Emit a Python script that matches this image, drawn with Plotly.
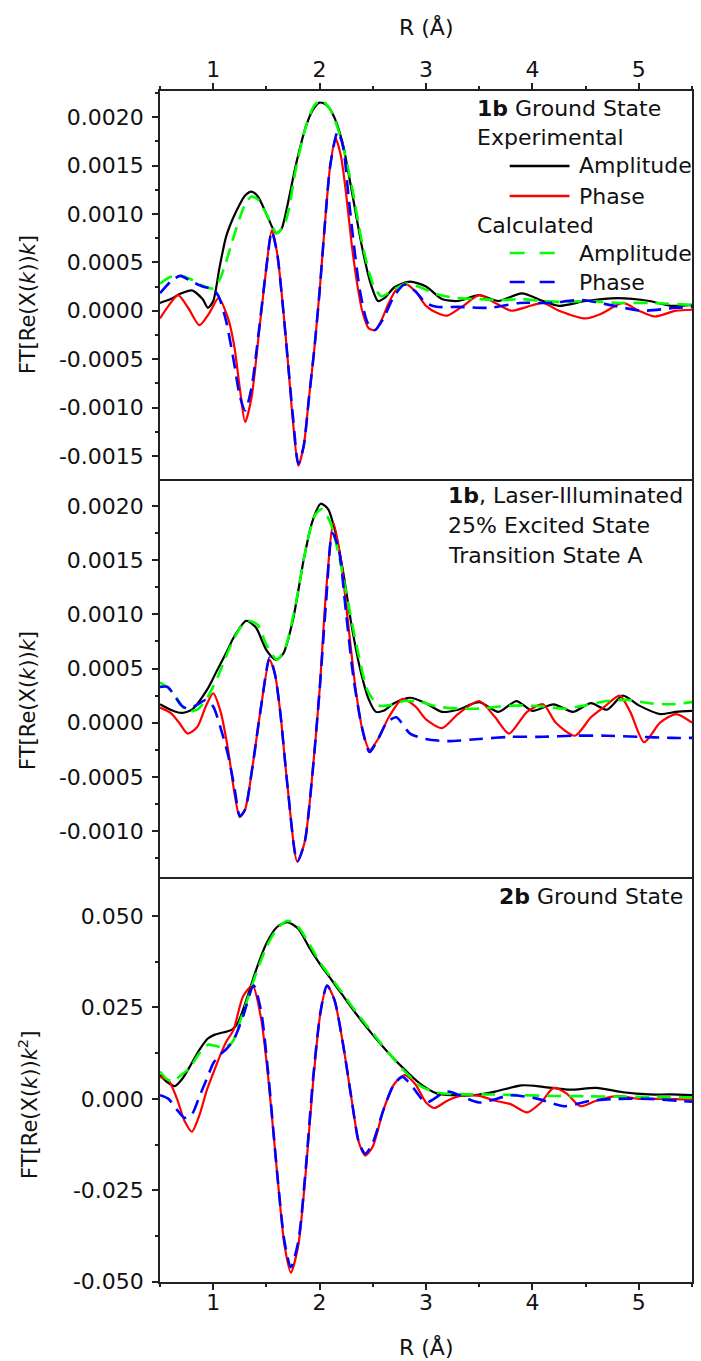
import plotly.graph_objects as go

# ---------------- data ----------------
# Panel 1: 1b Ground State
p1_exp_amp_x = [0.5, 0.6, 0.7, 0.8, 0.9, 0.95, 1.0, 1.06, 1.12, 1.18, 1.25, 1.3, 1.36, 1.42, 1.5, 1.59, 1.64, 1.7, 1.78, 1.87,
                1.94, 2.0, 2.06, 2.12, 2.21, 2.3, 2.4, 2.48, 2.55, 2.62, 2.7, 2.85, 3.0, 3.15, 3.3, 3.5, 3.68, 3.9, 4.1, 4.25,
                4.5, 4.8, 5.1, 5.3, 5.5]
p1_exp_amp_y = [0.00008, 0.00012, 0.00018, 0.00021, 0.00012, 0.00003, 0.0001, 0.00045, 0.00076, 0.00094, 0.00110, 0.00119,
                0.00123, 0.00118, 0.00100, 0.00080, 0.00084, 0.00110, 0.00152, 0.00190, 0.00208, 0.00215, 0.00213, 0.00204,
                0.00176, 0.00125, 0.00065, 0.00028, 0.00010, 0.00014, 0.00024, 0.00030, 0.00025, 0.00012, 0.00010, 0.00016,
                0.00010, 0.00018, 0.00010, 0.00005, 0.00010, 0.00013, 0.00010, 0.00005, 0.00006]

p1_exp_pha_x = [0.5, 0.58, 0.67, 0.77, 0.87, 0.96, 1.05, 1.14, 1.2, 1.25, 1.30, 1.36, 1.43, 1.5, 1.55, 1.6, 1.65, 1.7, 1.75,
                1.8, 1.85, 1.9, 1.95, 2.0, 2.05, 2.1, 2.15, 2.2, 2.25, 2.3, 2.35, 2.4, 2.46, 2.52, 2.58, 2.65, 2.72, 2.8, 2.9,
                3.0, 3.1, 3.2, 3.35, 3.5, 3.65, 3.8, 3.95, 4.1, 4.25, 4.5, 4.65, 4.85, 5.0, 5.15, 5.35, 5.5]
p1_exp_pha_y = [-0.00008, 0.00005, 0.00016, 0.00002, -0.00015, -0.00003, 0.00013, -0.00008, -0.00038, -0.0008,
                -0.00115, -0.0009, -0.00023, 0.00045, 0.00083, 0.0006, 0.00011, -0.0005, -0.00115, -0.0016,
                -0.0014, -0.0009, -0.0004, 0.0002, 0.0009, 0.0015, 0.00178, 0.0016, 0.0012, 0.0007,
                0.0003, 0.0, -0.00018, -0.0002, -0.0001, 0.00008, 0.00022, 0.00028, 0.0002, 0.00005,
                -0.00002, -0.00005, 0.00005, 0.00016, 0.00008, 0.0, 0.00004, 0.00008, 0.0, -0.00008,
                -0.00003, 0.00008, 0.0, -0.00006, 0.0, 0.00001]

p1_cal_amp_x = [0.5, 0.6, 0.7, 0.8, 0.9, 1.0, 1.06, 1.12, 1.18, 1.25, 1.3, 1.36, 1.42, 1.5, 1.6, 1.68, 1.78, 1.87, 1.95, 2.02,
                2.1, 2.2, 2.3, 2.4, 2.5, 2.58, 2.7, 2.82, 2.95, 3.1, 3.3, 3.5, 3.7, 3.9, 4.1, 4.3, 4.5, 4.8, 5.1, 5.5]
p1_cal_amp_y = [0.00028, 0.00035, 0.00036, 0.00032, 0.00026, 0.00023, 0.00032, 0.0005, 0.00072, 0.00096,
                0.0011, 0.00118, 0.00115, 0.001, 0.0008, 0.00092, 0.00148, 0.0019, 0.00212, 0.00217,
                0.00208, 0.00178, 0.0013, 0.0007, 0.00028, 0.00015, 0.00022, 0.00028, 0.00024, 0.00017,
                0.00013, 0.00012, 0.00011, 0.00012, 0.0001, 0.00009, 0.0001, 0.00008, 0.00008, 0.00006]

p1_cal_pha_x = [0.5, 0.6, 0.69, 0.8, 0.9, 1.0, 1.05, 1.12, 1.19, 1.25, 1.3, 1.36, 1.43, 1.5, 1.55, 1.6, 1.65, 1.7, 1.75, 1.8,
                1.85, 1.9, 1.95, 2.0, 2.05, 2.1, 2.17, 2.22, 2.27, 2.32, 2.38, 2.45, 2.52, 2.6, 2.7, 2.8, 2.9, 3.0, 3.1, 3.3,
                3.6, 3.88, 4.16, 4.47, 4.72, 5.03, 5.35, 5.5]
p1_cal_pha_y = [0.00018, 0.0003, 0.00036, 0.0003, 0.00025, 0.00022, 0.00015, -0.0001, -0.0005, -0.00088,
                -0.00103, -0.0008, -0.0002, 0.00045, 0.00082, 0.0006, 0.0001, -0.0005, -0.0011, -0.00158,
                -0.0014, -0.0009, -0.0004, 0.0002, 0.0009, 0.0015, 0.00185, 0.0017, 0.0012, 0.0007,
                0.0002, -0.00012, -0.0002, -0.00008, 0.00015, 0.00027, 0.0002, 0.00008, 0.00004, 0.00004,
                0.00003, 0.00008, 0.00008, 0.00011, 0.00006, 0.0, 0.00003, 0.00004]

# Panel 2: 1b, Laser-Illuminated
p2_exp_amp_x = [0.5, 0.6, 0.7, 0.8, 0.94, 1.03, 1.12, 1.2, 1.31, 1.4, 1.5, 1.59, 1.66, 1.75, 1.85, 1.93, 2.01, 2.08, 2.15,
                2.22, 2.3, 2.38, 2.46, 2.53, 2.6, 2.7, 2.85, 3.0, 3.15, 3.3, 3.5, 3.68, 3.85, 4.0, 4.2, 4.38, 4.55, 4.7,
                4.85, 5.0, 5.2, 5.35, 5.5]
p2_exp_amp_y = [0.00017, 0.00012, 0.00009, 0.00012, 0.0003, 0.00047, 0.00064, 0.0008, 0.00094, 0.00088,
                0.00067, 0.00058, 0.00064, 0.00095, 0.0015, 0.00185, 0.00202, 0.00197, 0.00175, 0.0014,
                0.0009, 0.0005, 0.00022, 0.0001, 0.00011, 0.00018, 0.00023, 0.00018, 0.0001, 0.00012,
                0.00019, 0.0001, 0.0002, 0.00011, 0.00017, 0.0001, 0.00018, 0.00012, 0.00025, 0.00016,
                0.00008, 0.0001, 0.00011]

p2_exp_pha_x = [0.5, 0.6, 0.68, 0.76, 0.85, 0.93, 1.0, 1.07, 1.14, 1.2, 1.25, 1.3, 1.37, 1.45, 1.53, 1.58, 1.63, 1.7, 1.79,
                1.86, 1.93, 2.0, 2.06, 2.13, 2.2, 2.27, 2.34, 2.41, 2.47, 2.55, 2.65, 2.78, 2.9, 3.0, 3.15, 3.3, 3.5, 3.65,
                3.78, 3.95, 4.1, 4.22, 4.4, 4.55, 4.68, 4.82, 4.92, 5.05, 5.2, 5.35, 5.5]
p2_exp_pha_y = [0.00014, 0.00009, 0.0, -0.0001, -0.00004, 0.00015, 0.00027, 0.0001, -0.00025, -0.00065,
                -0.00087, -0.0008, -0.0004, 0.00015, 0.00058, 0.00045, 0.0001, -0.0006, -0.00128, -0.0011,
                -0.0005, 0.0003, 0.0012, 0.00184, 0.0015, 0.0009, 0.0003, -0.0001, -0.00025, -0.00015,
                0.00005, 0.00022, 0.00015, 0.00003, -0.00005, 0.00008, 0.0002, 0.00005, -0.0001, 0.0001,
                0.00017, 0.0, -0.00012, 0.00005, 0.00015, 0.00025, 0.0001, -0.00018, 0.0, 0.00008, 0.0]

p2_cal_amp_x = [0.5, 0.58, 0.66, 0.75, 0.85, 0.95, 1.05, 1.15, 1.25, 1.33, 1.42, 1.5, 1.6, 1.68, 1.78, 1.88, 1.96, 2.02,
                2.1, 2.18, 2.26, 2.35, 2.45, 2.55, 2.65, 2.8, 2.95, 3.1, 3.3, 3.5, 3.7, 3.9, 4.1, 4.3, 4.5, 4.7, 4.9, 5.1,
                5.3, 5.5]
p2_cal_amp_y = [0.00037, 0.00032, 0.00022, 0.00011, 0.00012, 0.00024, 0.00044, 0.00068, 0.00087, 0.00094,
                0.0009, 0.00072, 0.00058, 0.0007, 0.00112, 0.00165, 0.00192, 0.00197, 0.00185, 0.00155,
                0.00115, 0.0007, 0.0003, 0.00016, 0.00016, 0.0002, 0.00019, 0.00015, 0.00013, 0.00013,
                0.00015, 0.00016, 0.00015, 0.00013, 0.00016, 0.0002, 0.00021, 0.00018, 0.00017, 0.00019]

p2_cal_pha_x = [0.5, 0.57, 0.63, 0.7, 0.76, 0.84, 0.93, 1.0, 1.07, 1.14, 1.2, 1.25, 1.3, 1.37, 1.45, 1.53, 1.58, 1.63, 1.7,
                1.79, 1.86, 1.93, 2.0, 2.06, 2.12, 2.18, 2.25, 2.32, 2.4, 2.47, 2.55, 2.63, 2.72, 2.85, 3.0, 3.2, 3.5, 3.8,
                4.1, 4.4, 4.7, 5.0, 5.3, 5.5]
p2_cal_pha_y = [0.00033, 0.00033, 0.00026, 0.00016, 0.00013, 0.00016, 0.00021, 0.00015, -0.00005, -0.0003,
                -0.0006, -0.00086, -0.0008, -0.0004, 0.00015, 0.0006, 0.00045, 0.0001, -0.0006, -0.00128,
                -0.0011, -0.0005, 0.0003, 0.0011, 0.00175, 0.0016, 0.001, 0.0004, -0.00005, -0.00027,
                -0.00015, 0.0, 0.00005, -0.0001, -0.00015, -0.00017, -0.00015, -0.00013, -0.00013, -0.00012,
                -0.00012, -0.00013, -0.00014, -0.00014]

# Panel 3: 2b Ground State
p3_exp_amp_x = [0.5, 0.57, 0.64, 0.71, 0.78, 0.87, 0.95, 1.01, 1.07, 1.13, 1.18, 1.23, 1.3, 1.4, 1.5, 1.6, 1.7, 1.8, 1.9,
                2.0, 2.1, 2.2, 2.35, 2.5, 2.65, 2.8, 2.95, 3.1, 3.25, 3.45, 3.65, 3.9, 4.1, 4.35, 4.6, 4.85, 5.1, 5.3, 5.5]
p3_exp_amp_y = [0.0065, 0.0045, 0.0035, 0.0055, 0.0088, 0.0134, 0.0165, 0.0175, 0.018, 0.0184,
                0.019, 0.0207, 0.026, 0.035, 0.0425, 0.047, 0.0483, 0.0465, 0.0415, 0.037,
                0.033, 0.029, 0.023, 0.0175, 0.0125, 0.008, 0.004, 0.0015, 0.001, 0.001,
                0.002, 0.0037, 0.0033, 0.0025, 0.003, 0.0018, 0.0012, 0.0012, 0.001]

p3_exp_pha_x = [0.5, 0.58, 0.66, 0.73, 0.8, 0.87, 0.94, 1.0, 1.06, 1.12, 1.19, 1.28, 1.37, 1.45, 1.52, 1.6, 1.67, 1.73, 1.8,
                1.87, 1.94, 2.01, 2.07, 2.14, 2.22, 2.3, 2.37, 2.43, 2.5, 2.6, 2.7, 2.8, 2.9, 3.0, 3.08, 3.2, 3.35, 3.5,
                3.65, 3.8, 3.95, 4.08, 4.2, 4.32, 4.45, 4.6, 4.8, 5.0, 5.25, 5.5]
p3_exp_pha_y = [0.006, 0.005, 0.0, -0.006, -0.009, -0.0045, 0.0024, 0.007, 0.0115, 0.0155,
                0.0188, 0.028, 0.031, 0.022, 0.005, -0.02, -0.04, -0.0475, -0.04, -0.02,
                0.005, 0.024, 0.031, 0.027, 0.015, 0.0, -0.012, -0.0155, -0.013, -0.003,
                0.004, 0.0065, 0.004, -0.001, -0.0025, -0.0005, 0.001, 0.0008, -0.0005, -0.0015,
                -0.0037, -0.001, 0.003, 0.0015, -0.002, -0.0005, 0.0008, 0.0, 0.0, -0.0002]

p3_cal_amp_x = [0.5, 0.56, 0.62, 0.7, 0.78, 0.87, 0.95, 1.02, 1.1, 1.18, 1.25, 1.32, 1.4, 1.5, 1.6, 1.7, 1.8, 1.9, 2.0, 2.1,
                2.2, 2.35, 2.5, 2.65, 2.8, 2.95, 3.1, 3.3, 3.6, 3.9, 4.2, 4.5, 4.8, 5.1, 5.5]
p3_cal_amp_y = [0.0075, 0.0055, 0.0048, 0.0065, 0.0085, 0.0125, 0.0148, 0.0145, 0.014, 0.0155,
                0.021, 0.027, 0.034, 0.0415, 0.0465, 0.0487, 0.047, 0.0425, 0.0375, 0.0335,
                0.0295, 0.0235, 0.018, 0.0125, 0.0075, 0.0035, 0.0017, 0.0013, 0.0012, 0.001,
                0.0008, 0.0007, 0.0006, 0.0005, 0.0004]

p3_cal_pha_x = [0.5, 0.58, 0.66, 0.73, 0.8, 0.87, 0.94, 1.0, 1.06, 1.12, 1.19, 1.28, 1.38, 1.45, 1.52, 1.6, 1.67, 1.73, 1.8,
                1.87, 1.94, 2.01, 2.07, 2.14, 2.22, 2.3, 2.37, 2.43, 2.5, 2.6, 2.7, 2.78, 2.88, 3.0, 3.2, 3.5, 3.8, 4.05,
                4.3, 4.55, 4.8, 5.1, 5.5]
p3_cal_pha_y = [0.001, 0.0, -0.003, -0.0052, -0.0042, 0.0006, 0.0055, 0.0097, 0.012, 0.0135,
                0.016, 0.0225, 0.031, 0.024, 0.006, -0.02, -0.039, -0.046, -0.039, -0.019,
                0.006, 0.024, 0.031, 0.027, 0.015, 0.0, -0.012, -0.015, -0.012, -0.003,
                0.004, 0.006, 0.003, -0.001, 0.002, -0.001, 0.001, 0.0, -0.002, -0.0005,
                0.0, 0.0, -0.0008]

# tick labels
x_tickvals = [1, 2, 3, 4, 5]
x_ticktext = ["1", "2", "3", "4", "5"]
p1_tickvals = [-0.0015, -0.0010, -0.0005, 0.0, 0.0005, 0.0010, 0.0015, 0.0020]
p1_ticktext = ["-0.0015", "-0.0010", "-0.0005", "0.0000", "0.0005", "0.0010", "0.0015", "0.0020"]
p2_tickvals = [-0.0010, -0.0005, 0.0, 0.0005, 0.0010, 0.0015, 0.0020]
p2_ticktext = ["-0.0010", "-0.0005", "0.0000", "0.0005", "0.0010", "0.0015", "0.0020"]
p3_tickvals = [-0.050, -0.025, 0.0, 0.025, 0.050]
p3_ticktext = ["-0.050", "-0.025", "0.000", "0.025", "0.050"]

# ---------------- layout geometry ----------------
W, H = 701, 1361
ML, MR, MT, MB = 160, 7, 91, 79
PW = W - ML - MR
PH = H - MT - MB


def yp(py):
    return (H - MB - py) / PH


def xp(px):
    return (px - ML) / PW


FONT = "DejaVu Sans"
FS = 22
AX = "#222222"
BLACK, RED, GREEN, BLUE = "#000000", "#ff0000", "#00ff00", "#0000ff"
SMOOTH = 0.7
DASH = "14px,8px"

fig = go.Figure()

panels = [
    ("x", "y", p1_exp_amp_x, p1_exp_amp_y, p1_exp_pha_x, p1_exp_pha_y,
     p1_cal_amp_x, p1_cal_amp_y, p1_cal_pha_x, p1_cal_pha_y),
    ("x2", "y2", p2_exp_amp_x, p2_exp_amp_y, p2_exp_pha_x, p2_exp_pha_y,
     p2_cal_amp_x, p2_cal_amp_y, p2_cal_pha_x, p2_cal_pha_y),
    ("x3", "y3", p3_exp_amp_x, p3_exp_amp_y, p3_exp_pha_x, p3_exp_pha_y,
     p3_cal_amp_x, p3_cal_amp_y, p3_cal_pha_x, p3_cal_pha_y),
]
for (xa, ya, eax, eay, epx, epy, cax, cay, cpx, cpy) in panels:
    fig.add_trace(go.Scatter(x=eax, y=eay, xaxis=xa, yaxis=ya, mode="lines", name="Experimental Amplitude",
                             line=dict(color=BLACK, width=2.2, shape="spline", smoothing=SMOOTH), showlegend=False))
    fig.add_trace(go.Scatter(x=epx, y=epy, xaxis=xa, yaxis=ya, mode="lines", name="Experimental Phase",
                             line=dict(color=RED, width=2.2, shape="spline", smoothing=SMOOTH), showlegend=False))
    fig.add_trace(go.Scatter(x=cax, y=cay, xaxis=xa, yaxis=ya, mode="lines", name="Calculated Amplitude",
                             line=dict(color=GREEN, width=2.6, dash=DASH, shape="spline", smoothing=SMOOTH),
                             showlegend=False))
    fig.add_trace(go.Scatter(x=cpx, y=cpy, xaxis=xa, yaxis=ya, mode="lines", name="Calculated Phase",
                             line=dict(color=BLUE, width=2.6, dash=DASH, shape="spline", smoothing=SMOOTH),
                             showlegend=False))

# panel pixel bounds
p1_top, p1_bot = 91, 479.3
p2_top, p2_bot = 479.3, 877
p3_top, p3_bot = 879.3, 1282

tickfont = dict(family=FONT, size=FS, color="#111111")
common_x = dict(range=[0.5, 5.5], showgrid=False, zeroline=False,
                tickfont=tickfont, linecolor=AX, linewidth=1.5, tickcolor=AX, tickwidth=1.5)
common_y = dict(showgrid=False, zeroline=False, showline=True, mirror=True, linecolor=AX, linewidth=1.5,
                ticks="outside", ticklen=6, tickcolor=AX, tickwidth=1.5, tickfont=tickfont, ticklabelstandoff=4)
minor_x = dict(ticks="outside", ticklen=3, dtick=0.5, tick0=0, tickcolor=AX, tickwidth=1.5)

fig.update_layout(
    width=W, height=H, margin=dict(l=ML, r=MR, t=MT, b=MB, pad=0),
    paper_bgcolor="white", plot_bgcolor="white",
    font=dict(family=FONT, size=FS, color="#111111"),
    xaxis=dict(**common_x, domain=[0, 1], anchor="y", side="top", showline=True, mirror=True,
               tickvals=x_tickvals, ticktext=x_ticktext,
               ticks="outside", ticklen=6, ticklabelstandoff=-3, minor=minor_x),
    xaxis2=dict(**common_x, domain=[0, 1], anchor="y2", showline=False, ticks="", showticklabels=False),
    xaxis3=dict(**common_x, domain=[0, 1], anchor="y3", side="bottom", showline=True, mirror=True,
                tickvals=x_tickvals, ticktext=x_ticktext,
                ticks="outside", ticklen=6, ticklabelstandoff=-6, minor=minor_x),
    yaxis=dict(**common_y, anchor="x",
               domain=[yp(p1_bot), yp(p1_top)], range=[-0.0017417, 0.0022696],
               tickvals=p1_tickvals, ticktext=p1_ticktext,
               minor=dict(ticks="outside", ticklen=3, dtick=0.00025, tick0=0, tickcolor=AX, tickwidth=1.5)),
    yaxis2=dict(**common_y, anchor="x2",
                domain=[yp(p2_bot), yp(p2_top)], range=[-0.001423, 0.002245],
                tickvals=p2_tickvals, ticktext=p2_ticktext,
                minor=dict(ticks="outside", ticklen=3, dtick=0.00025, tick0=0, tickcolor=AX, tickwidth=1.5)),
    yaxis3=dict(**common_y, anchor="x3",
                domain=[yp(p3_bot), yp(p3_top)], range=[-0.05008, 0.06004],
                tickvals=p3_tickvals, ticktext=p3_ticktext,
                minor=dict(ticks="outside", ticklen=3, dtick=0.0125, tick0=0, tickcolor=AX, tickwidth=1.5)),
)

ann = []


def text(x_px, y_px, s, anchor="left", size=FS, angle=0):
    ann.append(dict(x=xp(x_px), y=yp(y_px), xref="paper", yref="paper", text=s, showarrow=False,
                    xanchor=anchor, yanchor="middle", textangle=angle,
                    font=dict(family=FONT, size=size, color="#111111")))


# axis titles
text(428, 27, "R (Å)", anchor="center")
text(428, 1347, "R (Å)", anchor="center")
text(27.5, 304, "FT[Re(X(<i>k</i>))<i>k</i>]", anchor="center", size=21, angle=-90)
text(27.5, 700, "FT[Re(X(<i>k</i>))<i>k</i>]", anchor="center", size=21, angle=-90)
text(27.5, 1105, "FT[Re(X(<i>k</i>))<i>k</i><sup>2</sup>]", anchor="center", size=21, angle=-90)

# panel 1 legend
text(476, 108.5, "<b>1b</b> Ground State")
text(476, 137, "Experimental")
text(579, 166, "Amplitude")
text(579, 196, "Phase")
text(476, 225, "Calculated")
text(579, 253, "Amplitude")
text(579, 282, "Phase")

# panel 2 and 3 labels
text(447, 495, "<b>1b</b>, Laser-Illuminated")
text(447, 525, "25% Excited State")
text(447, 555, "Transition State A")
text(687, 897, "<b>2b</b> Ground State", anchor="right")

shapes = []


def legline(y_px, color, dash):
    shapes.append(dict(type="line", xref="paper", yref="paper", x0=xp(511), x1=xp(571), y0=yp(y_px), y1=yp(y_px),
                       line=dict(color=color, width=2.6, dash=dash)))


legline(166, BLACK, "solid")
legline(196, RED, "solid")
legline(253, GREEN, "15px,15px")
legline(282, BLUE, "15px,15px")

fig.update_layout(annotations=ann, shapes=shapes)

fig.write_html("out.html")
